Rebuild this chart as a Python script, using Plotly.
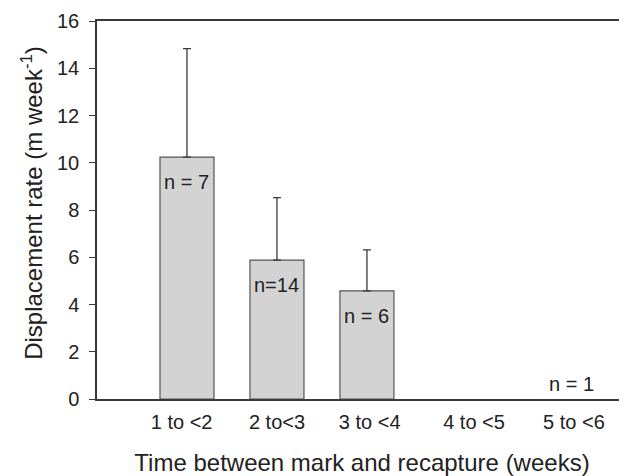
import plotly.graph_objects as go

categories = ["1 to <2", "2 to<3", "3 to <4", "4 to <5", "5 to <6"]
means = [10.24, 5.88, 4.58, None, None]
err_upper = [4.59, 2.64, 1.73, None, None]
n_labels = ["n = 7", "n=14", "n = 6", "", "n = 1"]
y_ticks = [0, 2, 4, 6, 8, 10, 12, 14, 16]

FONT = "Liberation Sans, Arial, Helvetica, sans-serif"
AX = "#3a3a3a"

xs = list(range(len(categories)))
err_lower = [0 if e is not None else None for e in err_upper]

fig = go.Figure()
fig.add_trace(go.Bar(
    x=xs, y=means, width=0.6,
    marker=dict(color="#d3d3d3", line=dict(color="#555555", width=1.2)),
    error_y=dict(type="data", array=err_upper, arrayminus=err_lower,
                 symmetric=False, color="#3a3a3a", thickness=1.3, width=4),
    showlegend=False,
))

# n labels
for i, (lab, v) in enumerate(zip(n_labels, means)):
    if not lab:
        continue
    if v and v > 0:
        fig.add_annotation(x=i, y=v, text=lab, showarrow=False, yanchor="top",
                           yshift=-12, font=dict(family=FONT, size=20, color="#222"))
    else:
        fig.add_annotation(x=i + 0.27, y=0, text=lab, showarrow=False, yanchor="bottom",
                           yshift=2, font=dict(family=FONT, size=20, color="#222"))

# y-axis title (as annotation so it can sit slightly above centre, as in the reference)
fig.add_annotation(xref="paper", yref="paper", x=0, y=0.519, xanchor="center",
                   yanchor="middle", xshift=-65, textangle=-90, showarrow=False,
                   text="Displacement rate (m week<sup>-1</sup>)",
                   font=dict(family=FONT, size=24, color="#222"))

tick_offsets = [-0.06, 0.0, 0.03, 0.19, 0.3]
# page body has an 8px margin, so the figure is sized/offset accordingly
fig.update_layout(
    width=619, height=468,
    margin=dict(l=89, r=0, t=13, b=77),
    paper_bgcolor="white", plot_bgcolor="white",
    font=dict(family=FONT, color="#222"),
    xaxis=dict(
        range=[-1, 4.89],
        automargin=False,
        layer="above traces",
        tickvals=[i + o for i, o in zip(xs, tick_offsets)],
        ticktext=categories,
        tickfont=dict(size=20, color="#222"),
        showline=True, linecolor=AX, linewidth=1.5, mirror=True,
        ticks="", showgrid=False, zeroline=False,
        ticklabelstandoff=4,
        title=dict(text="Time between mark and recapture (weeks)",
                   font=dict(size=24, color="#222"), standoff=26),
    ),
    yaxis=dict(
        range=[0, 16],
        automargin=False,
        tickvals=y_ticks,
        tickfont=dict(size=20, color="#222"),
        showline=True, linecolor=AX, linewidth=1.5,
        ticks="outside", ticklen=6, tickcolor=AX, tickwidth=1.3,
        ticklabelstandoff=6,
        showgrid=False, zeroline=False,
    ),
)

fig.write_html("out.html")
